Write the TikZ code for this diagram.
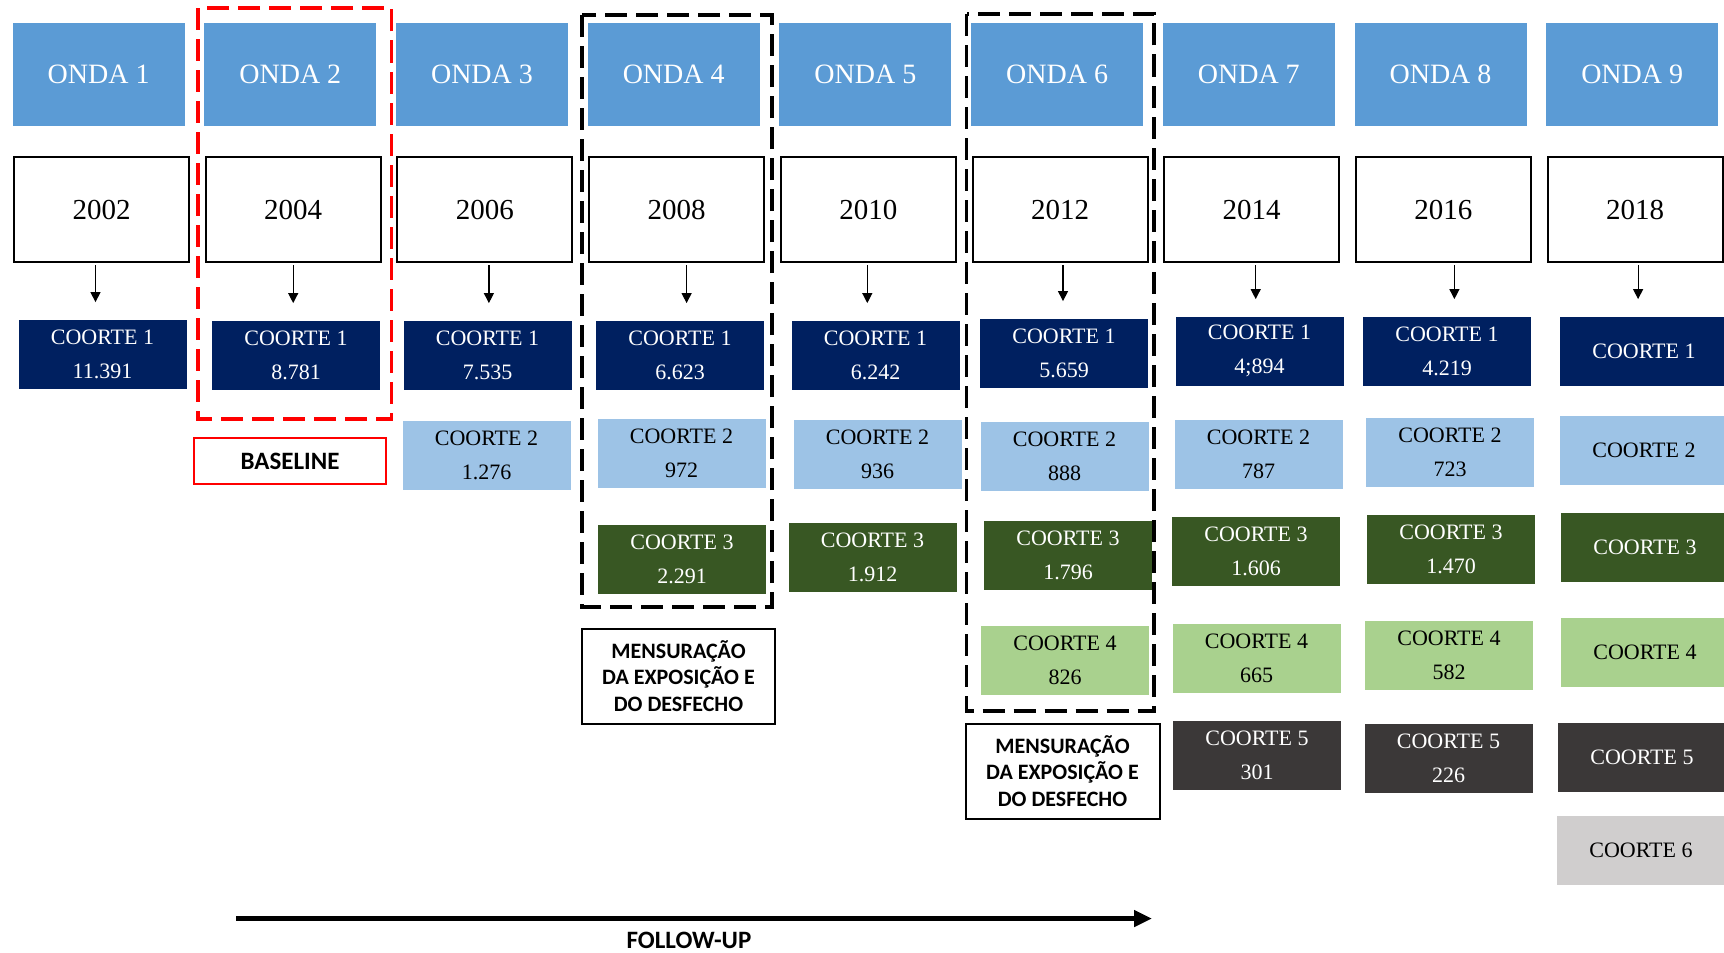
\documentclass[tikz,border=0pt]{standalone}
\usepackage{fontspec}
\setmainfont{Liberation Serif}
\newfontfamily\calibri{Carlito}
\usetikzlibrary{arrows.meta,positioning}

\definecolor{azulOnda}{HTML}{5B9BD5}
\definecolor{azulEscuro}{HTML}{002060}
\definecolor{azulClaro}{HTML}{9DC3E6}
\definecolor{verdeEscuro}{HTML}{385723}
\definecolor{verdeClaro}{HTML}{A9D18E}
\definecolor{cinzaEscuro}{HTML}{3B3838}
\definecolor{cinzaClaro}{HTML}{D0CECE}

\begin{document}
\begin{tikzpicture}[x=0.5pt, y=-0.5pt,
  onda/.style={rectangle, fill=azulOnda, minimum width=86pt,
    minimum height=51.5pt, text=white, font=\fontsize{14}{16}\selectfont},
  ano/.style={rectangle, draw, line width=1pt, fill=white,
    minimum width=87.5pt, minimum height=52.5pt,
    font=\fontsize{14.5}{17}\selectfont},
  coorte/.style={rectangle, minimum width=84pt, minimum height=34.5pt,
    inner sep=1pt, align=center, font=\fontsize{11}{17}\selectfont},
  co1/.style={coorte, fill=azulEscuro, text=white},
  co2/.style={coorte, fill=azulClaro},
  co3/.style={coorte, fill=verdeEscuro, text=white},
  co4/.style={coorte, fill=verdeClaro},
  co5/.style={coorte, fill=cinzaEscuro, text=white},
  co6/.style={coorte, fill=cinzaClaro},
  nota/.style={rectangle, draw, line width=1pt, fill=white, align=center,
    inner sep=2pt, font=\calibri\bfseries\fontsize{11}{13.4}\selectfont},
  moldura/.style={line width=1.8pt, dash pattern=on 11pt off 4.5pt},
  arr/.style={-{Triangle[length=5pt,width=5pt]}, line width=0.6pt,
    shorten <=1pt, shorten >=8.5pt},
]
\useasboundingbox (0,0) rectangle (1724,953);

% ondas e anos
\foreach \i in {1,...,9} {
  \pgfmathtruncatemacro\ano{2000+2*\i}
  \node[onda] (onda\i) at ({98.6+191.7*(\i-1)}, 74.5) {ONDA \i};
  \node[ano]  (ano\i)  at ({101.5+191.7*(\i-1)}, 209.5) {\ano};
}

% coortes
\node[co1] (c11) at (102.5,354) {COORTE 1\\11.391};

\node[co1] (c21) at (296,355) {COORTE 1\\8.781};

\node[co1] (c31) at (487.5,355) {COORTE 1\\7.535};
\node[co2] (c32) at (486.5,455) {COORTE 2\\1.276};

\node[co1] (c41) at (680,355)   {COORTE 1\\6.623};
\node[co2] (c42) at (681.5,453) {COORTE 2\\972};
\node[co3] (c43) at (682,559)   {COORTE 3\\2.291};

\node[co1] (c51) at (875.5,355) {COORTE 1\\6.242};
\node[co2] (c52) at (877.5,454) {COORTE 2\\936};
\node[co3] (c53) at (872.5,557) {COORTE 3\\1.912};

\node[co1] (c61) at (1064,353)   {COORTE 1\\5.659};
\node[co2] (c62) at (1064.5,456) {COORTE 2\\888};
\node[co3] (c63) at (1068,555)   {COORTE 3\\1.796};
\node[co4] (c64) at (1065,660)   {COORTE 4\\826};

\node[co1] (c71) at (1259.5,351) {COORTE 1\\4;894};
\node[co2] (c72) at (1258.5,454) {COORTE 2\\787};
\node[co3] (c73) at (1256,551.5) {COORTE 3\\1.606};
\node[co4] (c74) at (1256.5,658.5) {COORTE 4\\665};
\node[co5] (c75) at (1257,755.5) {COORTE 5\\301};

\node[co1] (c81) at (1447,351)   {COORTE 1\\4.219};
\node[co2] (c82) at (1450,452.5) {COORTE 2\\723};
\node[co3] (c83) at (1451,549.5) {COORTE 3\\1.470};
\node[co4] (c84) at (1449,655)   {COORTE 4\\582};
\node[co5] (c85) at (1448.5,758) {COORTE 5\\226};

\node[co1] (c91) at (1644,351)   {COORTE 1};
\node[co2] (c92) at (1644,450.5) {COORTE 2};
\node[co3] (c93) at (1645,547.5) {COORTE 3};
\node[co4] (c94) at (1645,652)   {COORTE 4};
\node[co5] (c95) at (1642,757.5) {COORTE 5};
\node[co6] (c96) at (1641,850.5) {COORTE 6};

% setas ano -> coorte 1
\foreach \i/\dx in {1/-6,2/0,3/4,4/10,5/-1,6/3,7/4,8/11,9/3}
  \draw[arr] ([xshift=\dx*0.5pt]ano\i.south)
    -- ([xshift=\dx*0.5pt]ano\i.south |- c\i1.north);

% notas
\node[nota, draw=red, minimum width=96pt, minimum height=23pt,
  font=\calibri\bfseries\fontsize{12.5}{15}\selectfont]
  (base) at (290,461) {BASELINE};
\node[nota, minimum width=96.5pt, minimum height=47.5pt]
  (mens4) at (678.5,676) {MENSURAÇÃO\\DA EXPOSIÇÃO E\\DO DESFECHO};
\node[nota, minimum width=97pt, minimum height=47.5pt]
  (mens6) at (1062.5,771) {MENSURAÇÃO\\DA EXPOSIÇÃO E\\DO DESFECHO};

% molduras tracejadas
\draw[moldura, red] (198,8) rectangle (391.5,419);
\draw[moldura] (582,15) rectangle (772,607);
\draw[moldura] (966.5,14) rectangle (1154,711);

% follow-up
\coordinate (fuIni) at (236,918.5);
\coordinate (fuFim) at (1152,918.5);
\draw[line width=2.5pt, -{Triangle[length=9pt,width=8pt]}] (fuIni) -- (fuFim);
\node[font=\calibri\bfseries\fontsize{12.5}{15}\selectfont, inner sep=0pt]
  (fu) at (689,940) {FOLLOW-UP};
\end{tikzpicture}
\end{document}
